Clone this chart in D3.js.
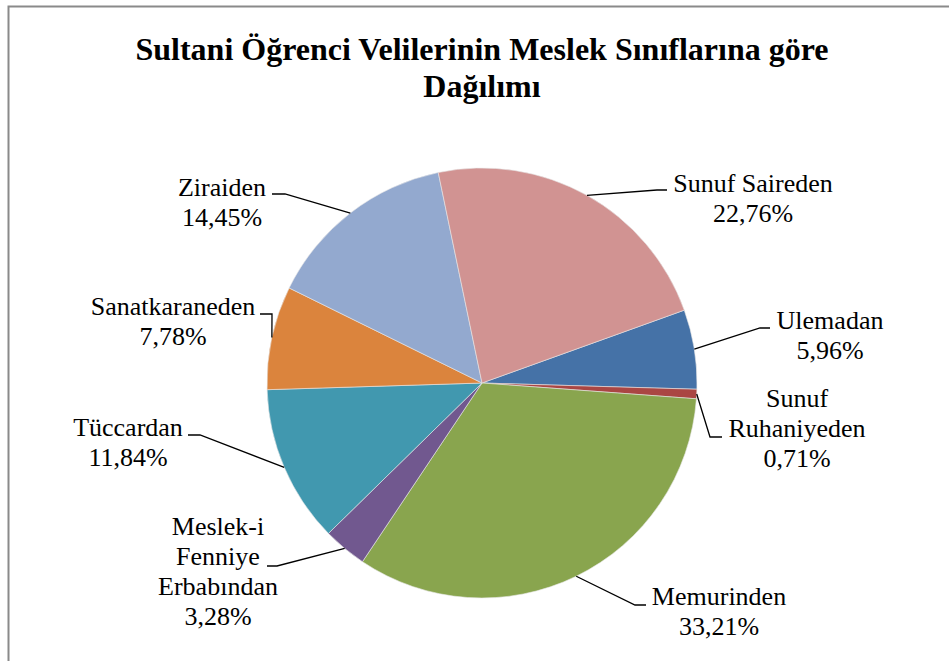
<!DOCTYPE html>
<html>
<head>
<meta charset="utf-8">
<script src="https://cdn.jsdelivr.net/npm/d3@7"></script>
<style>
  body { margin: 0; background: #fff; }
</style>
</head>
<body>
<div id="chart"></div>
<script>
// data, in the order Excel draws the slices (clockwise)
const categories = ["Ulemadan", "Sunuf Ruhaniyeden", "Memurinden", "Meslek-i Fenniye Erbabından",
  "Tüccardan", "Sanatkaraneden", "Ziraiden", "Sunuf Saireden"];
const percents = [5.96, 0.71, 33.21, 3.28, 11.84, 7.78, 14.45, 22.76];
const percentLabels = ["5,96%", "0,71%", "33,21%", "3,28%", "11,84%", "7,78%", "14,45%", "22,76%"];
// how each category name is broken into lines in the label
const nameLines = [["Ulemadan"], ["Sunuf", "Ruhaniyeden"], ["Memurinden"], ["Meslek-i", "Fenniye", "Erbabından"],
  ["Tüccardan"], ["Sanatkaraneden"], ["Ziraiden"], ["Sunuf Saireden"]];
const colors = ["#4572a7", "#aa4643", "#89a54e", "#71588f", "#4198af", "#db843d", "#93a9cf", "#d19392"];

// label layout: block centre, first baseline, leader elbow and end of the horizontal piece
const labelLayout = [
  { cx: 830, y: 329, ex: 760, ey: 328, hx: 770 },
  { cx: 797, y: 407, ex: 710, ey: 437, hx: 722 },
  { cx: 719, y: 605, ex: 635, ey: 605, hx: 646 },
  { cx: 218, y: 535, ex: 277, ey: 566, hx: 267 },
  { cx: 128, y: 436, ex: 200, ey: 435, hx: 188 },
  { cx: 173, y: 315, ex: 272, ey: 314, hx: 260 },
  { cx: 222, y: 196, ex: 285, ey: 194, hx: 272 },
  { cx: 753, y: 192, ex: 657, ey: 190, hx: 667 }
];

const FONT = "'Liberation Serif'";

class PieChart {

  constructor(opts) {
    this.element = opts.element;
    this.draw();
  }

  draw() {
    this.width = 949;
    this.height = 661;
    this.cx = 482;
    this.cy = 383;
    this.radius = 215;

    this.svg = d3.select(this.element).append('svg')
      .attr('width', this.width)
      .attr('height', this.height);

    this.addFrame();
    this.addTitle();
    this.addPie();
    this.addLabels();
  }

  addFrame() {
    // only the top and left edges of the chart area are in the picture
    this.svg.append('path')
      .attr('d', `M8.5,${this.height} V6.5 H${this.width}`)
      .attr('fill', 'none')
      .attr('stroke', '#8a8a8a')
      .attr('stroke-width', 2);
  }

  addTitle() {
    const lines = ["Sultani Öğrenci Velilerinin Meslek Sınıflarına göre", "Dağılımı"];
    lines.forEach((s, k) => {
      this.svg.append('text')
        .attr('x', 482)
        .attr('y', 60 + k * 37)
        .attr('text-anchor', 'middle')
        .attr('font-family', FONT)
        .attr('font-weight', 'bold')
        .attr('font-size', 32)
        .text(s);
    });
  }

  addPie() {
    const start = 70.2 * Math.PI / 180;
    this.pie = d3.pie()
      .sort(null)
      .startAngle(start)
      .endAngle(start + 2 * Math.PI)
      .value(d => d);

    this.arcs = this.pie(percents);

    this.arc = d3.arc().innerRadius(0).outerRadius(this.radius);

    this.plot = this.svg.append('g')
      .attr('transform', `translate(${this.cx},${this.cy})`);

    this.plot.selectAll('path')
      .data(this.arcs)
      .enter().append('path')
      .attr('d', this.arc)
      .attr('fill', (d, i) => colors[i])
      .attr('stroke', '#e8e8e8')
      .attr('stroke-width', 0.6);
  }

  addLabels() {
    const g = this.svg.append('g');
    const lineH = 30;

    this.arcs.forEach((a, i) => {
      const L = labelLayout[i];
      const mid = (a.startAngle + a.endAngle) / 2;
      const sx = this.cx + this.radius * Math.sin(mid);
      const sy = this.cy - this.radius * Math.cos(mid);

      g.append('polyline')
        .attr('points', [[sx, sy], [L.ex, L.ey], [L.hx, L.ey]].map(p => p.join(',')).join(' '))
        .attr('fill', 'none')
        .attr('stroke', '#000')
        .attr('stroke-width', 1.3);

      const lines = nameLines[i].concat([percentLabels[i]]);
      lines.forEach((s, k) => {
        g.append('text')
          .attr('x', L.cx)
          .attr('y', L.y + k * lineH)
          .attr('text-anchor', 'middle')
          .attr('font-family', FONT)
          .attr('font-size', 26)
          .text(s);
      });
    });
  }

}

new PieChart({ element: '#chart' });
</script>
</body>
</html>
